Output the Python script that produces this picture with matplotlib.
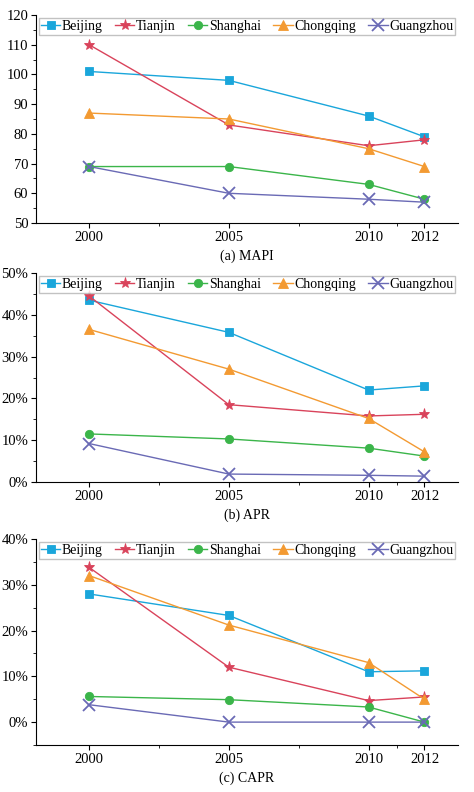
import matplotlib
matplotlib.use("Agg")
import matplotlib.pyplot as plt
import matplotlib.ticker as ticker

years = [2000, 2005, 2010, 2012]
cities = ["Beijing", "Tianjin", "Shanghai", "Chongqing", "Guangzhou"]

mapi_beijing   = [101, 98, 86, 79]
mapi_tianjin   = [110, 83, 76, 78]
mapi_shanghai  = [69, 69, 63, 58]
mapi_chongqing = [87, 85, 75, 69]
mapi_guangzhou = [69, 60, 58, 57]

apr_beijing   = [43.5, 35.8, 22.0, 23.0]
apr_tianjin   = [44.5, 18.5, 15.8, 16.2]
apr_shanghai  = [11.5, 10.3, 8.1, 6.2]
apr_chongqing = [36.5, 27.0, 15.2, 7.2]
apr_guangzhou = [9.2, 1.9, 1.6, 1.4]

capr_beijing   = [28.0, 23.3, 11.0, 11.2]
capr_tianjin   = [33.8, 12.0, 4.7, 5.5]
capr_shanghai  = [5.6, 4.9, 3.3, 0.0]
capr_chongqing = [32.0, 21.2, 13.0, 5.0]
capr_guangzhou = [3.8, 0.0, 0.0, 0.0]

plt.rcParams.update({
    "font.family": "serif",
    "font.serif": ["Liberation Serif", "DejaVu Serif"],
    "font.size": 10,
})

COLORS  = ["#1AA6DB", "#D9435B", "#3BB54A", "#F39A32", "#6A6AB5"]
MARKERS = ["s", "*", "o", "^", "x"]
MSIZE   = [6, 8, 6, 7, 8]

panels = [
    ([mapi_beijing, mapi_tianjin, mapi_shanghai, mapi_chongqing, mapi_guangzhou],
     (50, 120), 10, False, "(a) MAPI"),
    ([apr_beijing, apr_tianjin, apr_shanghai, apr_chongqing, apr_guangzhou],
     (0, 50), 10, True, "(b) APR"),
    ([capr_beijing, capr_tianjin, capr_shanghai, capr_chongqing, capr_guangzhou],
     (-5, 40), 10, True, "(c) CAPR"),
]

fig = plt.figure(figsize=(4.74, 7.92), dpi=100)
tops = [15, 273, 539]
bottoms = [223, 482, 745]
W, H = 474, 792

for (series, ylim, step, pct, title), t, b in zip(panels, tops, bottoms):
    ax = fig.add_axes([36 / W, 1 - b / H, (458 - 36) / W, (b - t) / H])
    for vals, name, c, m, ms in zip(series, cities, COLORS, MARKERS, MSIZE):
        ax.plot(years, vals, color=c, marker=m, markersize=ms, linewidth=1.0,
                markeredgewidth=1.3 if m == "x" else 0.6, label=name)
    ax.set_xlim(1998.1, 2013.2)
    ax.set_ylim(*ylim)
    ax.set_xticks(years)
    ax.xaxis.set_minor_locator(ticker.FixedLocator([2002.5, 2007.5, 2011]))
    ax.yaxis.set_major_locator(ticker.MultipleLocator(step))
    ax.yaxis.set_minor_locator(ticker.MultipleLocator(step / 2))
    if pct:
        ax.yaxis.set_major_formatter(ticker.FuncFormatter(lambda v, p: f"{v:.0f}%"))
    ax.spines["top"].set_visible(False)
    ax.spines["right"].set_visible(False)
    ax.tick_params(labelsize=10.5, pad=2)
    ax.set_xlabel(title, fontsize=10, labelpad=4)
    leg = ax.legend(loc="upper left", bbox_to_anchor=(0, 1.0, 1.0, 0.0), ncol=5,
                    mode="expand", handlelength=1.4, handletextpad=0.1,
                    columnspacing=0.1, borderaxespad=0.2, fontsize=10,
                    frameon=True, fancybox=False, edgecolor="0.7",
                    borderpad=0.15)
    leg.get_frame().set_linewidth(1.0)

fig.savefig("out.png", dpi=100)
